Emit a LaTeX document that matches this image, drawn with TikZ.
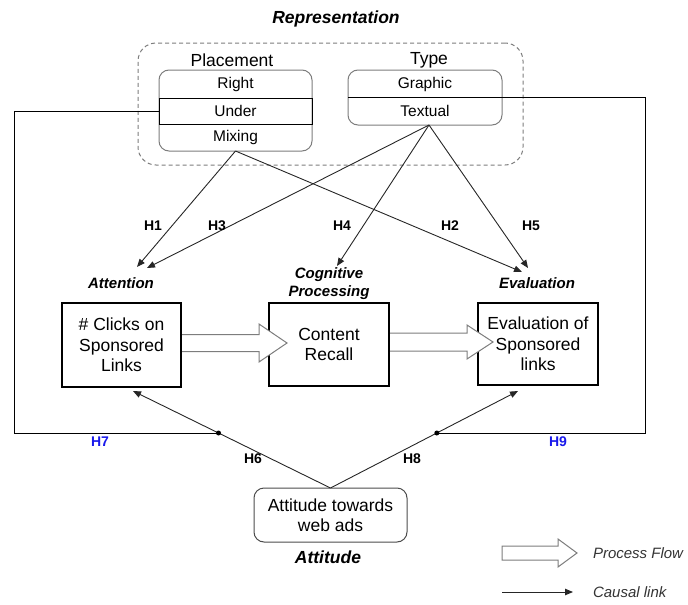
\documentclass[tikz,border=0pt]{standalone}
\usepackage{fontspec}
\setmainfont{Liberation Sans}
\usetikzlibrary{arrows.meta,calc}
\definecolor{hblue}{RGB}{25,25,235}
\definecolor{lgray}{RGB}{125,125,125}
\newcommand\flowarr[5]{%
  \fill[white] ($(#1)+(0,-#4)$) -- ($(#1)+(#2,-#4)$) -- ($(#1)+(#2,-#5)$) -- ($(#1)+(#3,0)$) -- ($(#1)+(#2,#5)$) -- ($(#1)+(#2,#4)$) -- ($(#1)+(0,#4)$) -- cycle;
  \draw[flowline] ($(#1)+(0,-#4)$) -- ($(#1)+(#2,-#4)$) -- ($(#1)+(#2,-#5)$) -- ($(#1)+(#3,0)$) -- ($(#1)+(#2,#5)$) -- ($(#1)+(#2,#4)$) -- ($(#1)+(0,#4)$);
}
\begin{document}
\begin{tikzpicture}[x=1pt,y=-1pt,
  every node/.style={inner sep=0pt,outer sep=0pt},
  txt/.style={font=\fontsize{17.5}{20.5}\selectfont,align=center},
  rowtxt/.style={font=\fontsize{15.5}{17}\selectfont},
  hyp/.style={font=\bfseries\fontsize{14}{16}\selectfont},
  hypblue/.style={hyp,text=hblue},
  concept/.style={font=\bfseries\itshape\fontsize{15}{18}\selectfont,align=center},
  legendtxt/.style={font=\itshape\fontsize{15}{17}\selectfont,text=black!80,anchor=west},
  stagebox/.style={draw,line width=2.4pt,align=center,font=\fontsize{17.5}{20.5}\selectfont},
  roundbox/.style={draw=lgray,line width=1pt,rounded corners=10pt},
  causal/.style={draw=black!85,line width=0.9pt,-{Triangle[length=8pt,width=6.5pt]}},
  plainline/.style={draw=black,line width=1pt},
  flowline/.style={draw=lgray,line width=1pt},
  dotnode/.style={circle,fill=black,minimum size=5pt}]
\useasboundingbox (0,0) rectangle (688,605);

% Representation group
\node[font=\bfseries\itshape\fontsize{17.5}{20}\selectfont] (reprtitle) at (336,19) {Representation};
\node[draw=lgray,dashed,dash pattern=on 4pt off 3pt,line width=1pt,rounded corners=18pt,minimum width=385,minimum height=122] (repr) at (330.5,104) {};
\node[txt] (placetitle) at (232,60) {Placement};
\node[txt] (typetitle) at (429,60) {Type};
\node[roundbox,minimum width=153,minimum height=81] (placement) at (235.5,110.5) {};
\node[draw=black,line width=1pt,minimum width=153,minimum height=26,rowtxt] (under) at (235.5,111) {Under};
\node[rowtxt] (right) at (235.5,84) {Right};
\node[rowtxt] (mixing) at (235.5,137.5) {Mixing};
\node[roundbox,minimum width=154,minimum height=55] (type) at (425,97.5) {};
\draw[line width=1pt] (type.west) -- (type.east);
\node[rowtxt] (graphic) at (425,84) {Graphic};
\node[rowtxt] (textual) at (425,110.5) {Textual};

% stage labels
\node[concept] (attn) at (121,283) {Attention};
\node[concept] (cogn) at (329,284) {Cognitive\\Processing};
\node[concept] (evall) at (537,283) {Evaluation};

% arrow targets
\coordinate (tH1) at (137,267);
\coordinate (tH3) at (147,268);
\coordinate (tH4) at (337,266);
\coordinate (tH2) at (522,272);
\coordinate (tH5) at (528,268);
\coordinate (tsrc) at ($(type.south)+(4,0)$);

\draw[causal] (placement.south) -- (tH1);
\draw[causal] (placement.south) -- (tH2);
\draw[causal] (tsrc) -- (tH3);
\draw[causal] (tsrc) -- (tH4);
\draw[causal] (tsrc) -- (tH5);

\node[hyp] (h1) at (153,226) {H1};
\node[hyp] (h3) at (217,226) {H3};
\node[hyp] (h4) at (342,226) {H4};
\node[hyp] (h2) at (450,226) {H2};
\node[hyp] (h5) at (531,226) {H5};

% stage boxes
\node[stagebox,minimum width=119,minimum height=84] (clicks) at (121.5,345) {\# Clicks on\\Sponsored\\Links};
\node[stagebox,minimum width=120,minimum height=83] (content) at (329,344.5) {Content\\Recall};
\node[stagebox,minimum width=120,minimum height=82] (evalbox) at (538,344) {Evaluation of\\Sponsored\\links};

\coordinate (f1) at ($(clicks.east)+(1.2,-2)$);
\coordinate (f2) at ($(content.east)+(1.2,-2.5)$);
\flowarr{f1}{76.8}{104.8}{8.5}{19}
\flowarr{f2}{76.8}{102.8}{9}{17}

% attitude
\node[roundbox,draw=black!70,minimum width=153,minimum height=54,txt] (att) at (330.5,515) {Attitude towards\\web ads};
\node[font=\bfseries\itshape\fontsize{17.5}{20}\selectfont] (atttitle) at (328,557) {Attitude};

\coordinate (tC) at (133,391);
\coordinate (tE) at (518,391);
\draw[causal] (att.north) -- (tC);
\draw[causal] (att.north) -- (tE);
\coordinate (d1) at ($(att.north)!0.567!(tC)$);
\coordinate (d2) at ($(att.north)!0.567!(tE)$);
\node[dotnode] (dot1) at (d1) {};
\node[dotnode] (dot2) at (d2) {};

\draw[plainline] (under.west) -- ++(-145,0) |- (d1);
\draw[plainline] (type.east) -- ++(143,0) |- (d2);

\node[hyp] (h6) at (253,459) {H6};
\node[hyp] (h8) at (412,459) {H8};
\node[hypblue] (h7) at (100,442) {H7};
\node[hypblue] (h9) at (558,442) {H9};

% legend
\coordinate (lg1) at (502,553);
\fill[white] ($(lg1)+(0,-7)$) -- ++(56,0) -- ($(lg1)+(56,-14)$) -- ($(lg1)+(75,0)$) -- ($(lg1)+(56,14)$) -- ($(lg1)+(56,7)$) -- ($(lg1)+(0,7)$) -- cycle;
\draw[flowline] ($(lg1)+(0,-7)$) -- ($(lg1)+(56,-7)$) -- ($(lg1)+(56,-14)$) -- ($(lg1)+(75,0)$) -- ($(lg1)+(56,14)$) -- ($(lg1)+(56,7)$) -- ($(lg1)+(0,7)$) -- cycle;
\node[legendtxt] (lgflow) at (593,553) {Process Flow};
\coordinate (lc1) at (502,592);
\coordinate (lc2) at (573,592);
\draw[causal] (lc1) -- (lc2);
\node[legendtxt] (lgcausal) at (593,592) {Causal link};
\end{tikzpicture}
\end{document}
